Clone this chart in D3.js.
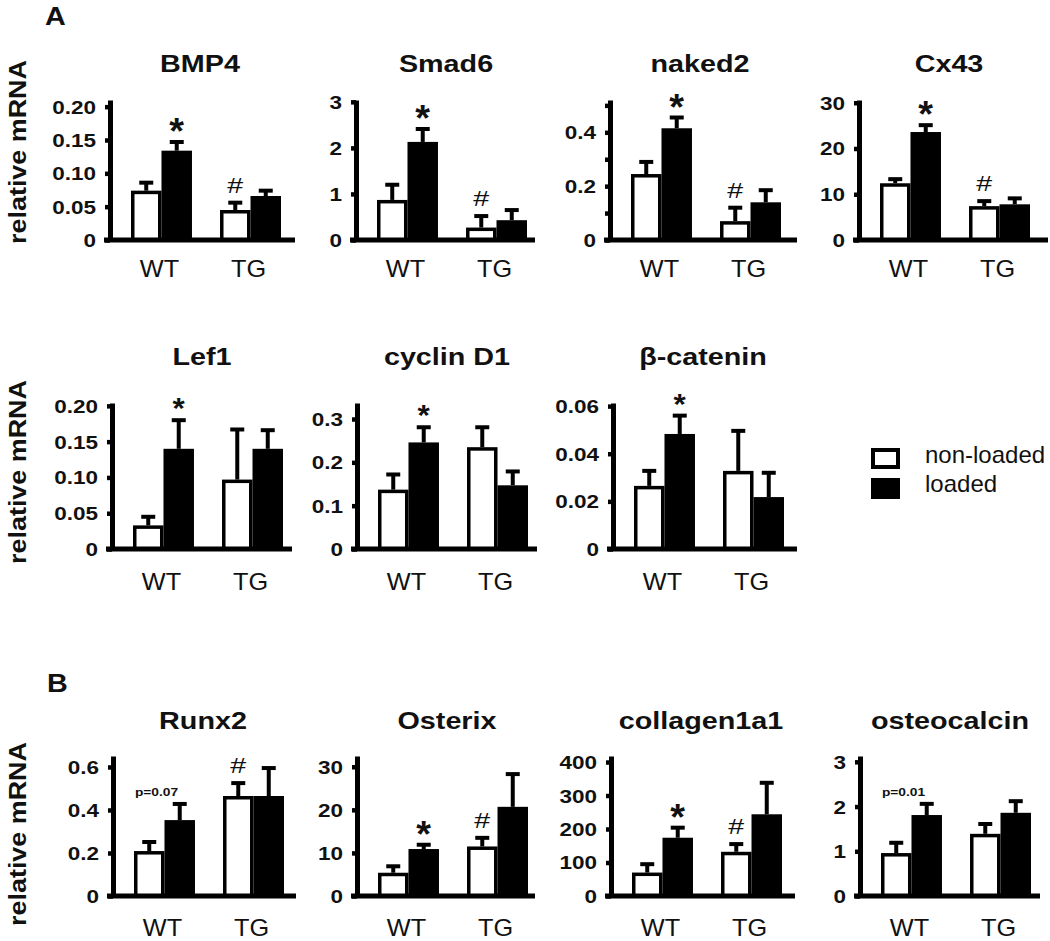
<!DOCTYPE html>
<html>
<head>
<meta charset="utf-8">
<script src="https://cdn.jsdelivr.net/npm/d3@7"></script>
<style>
  body { margin: 0; background: #fff; }
  text { font-family: "Liberation Sans", Arial, sans-serif; fill: #111; }
</style>
</head>
<body>
<div id="chart"></div>
<script>
// ---- data ----
const genes = ["BMP4", "Smad6", "naked2", "Cx43", "Lef1", "cyclin D1", "β-catenin",
               "Runx2", "Osterix", "collagen1a1", "osteocalcin"];
const groups = ["WT", "TG"];
const seriesNames = ["non-loaded", "loaded"];

// [WT, TG] per gene
const nonLoadedMean = [[0.074, 0.045], [0.87, 0.27], [0.245, 0.07], [12.4, 7.4],
  [0.033, 0.097], [0.137, 0.235], [0.0265, 0.0328],
  [0.209, 0.465], [5.4, 11.5], [70, 132], [0.96, 1.39]];
const nonLoadedErr = [[0.012, 0.011], [0.33, 0.25], [0.045, 0.05], [0.9, 1.1],
  [0.012, 0.07], [0.035, 0.046], [0.0063, 0.0168],
  [0.042, 0.06], [1.5, 2.0], [25, 23], [0.23, 0.22]];
const loadedMean = [[0.134, 0.066], [2.13, 0.43], [0.415, 0.14], [23.6, 7.8],
  [0.14, 0.14], [0.246, 0.147], [0.0483, 0.0218],
  [0.353, 0.465], [10.9, 20.7], [174, 244], [1.81, 1.86]];
const loadedErr = [[0.013, 0.008], [0.28, 0.22], [0.04, 0.045], [1.5, 1.3],
  [0.04, 0.026], [0.035, 0.032], [0.0077, 0.0102],
  [0.075, 0.13], [1.0, 7.6], [30, 94], [0.25, 0.26]];

const yMax = [0.21, 3.04, 0.52, 30.6, 0.204, 0.337, 0.0613, 0.651, 32.5, 418, 3.13];
const tickValues = [[0, 0.05, 0.1, 0.15, 0.2], [0, 1, 2, 3], [0, 0.1, 0.2, 0.3, 0.4, 0.5], [0, 10, 20, 30],
  [0, 0.05, 0.1, 0.15, 0.2], [0, 0.1, 0.2, 0.3], [0, 0.02, 0.04, 0.06],
  [0, 0.2, 0.4, 0.6], [0, 10, 20, 30], [0, 100, 200, 300, 400], [0, 1, 2, 3]];
const tickLabels = [["0", "0.05", "0.10", "0.15", "0.20"], ["0", "1", "2", "3"], ["0", "", "0.2", "", "0.4", ""], ["0", "10", "20", "30"],
  ["0", "0.05", "0.10", "0.15", "0.20"], ["0", "0.1", "0.2", "0.3"], ["0", "0.02", "0.04", "0.06"],
  ["0", "0.2", "0.4", "0.6"], ["0", "10", "20", "30"], ["0", "100", "200", "300", "400"], ["0", "1", "2", "3"]];

// significance marks: gene index, group, series, symbol
const marks = [
  [0, "WT", "loaded", "*"], [0, "TG", "non-loaded", "#"],
  [1, "WT", "loaded", "*"], [1, "TG", "non-loaded", "#"],
  [2, "WT", "loaded", "*"], [2, "TG", "non-loaded", "#"],
  [3, "WT", "loaded", "*"], [3, "TG", "non-loaded", "#"],
  [4, "WT", "loaded", "*"], [5, "WT", "loaded", "*"], [6, "WT", "loaded", "*"],
  [7, "TG", "non-loaded", "#"], [8, "WT", "loaded", "*"], [8, "TG", "non-loaded", "#"],
  [9, "WT", "loaded", "*"], [9, "TG", "non-loaded", "#"]
];
const pNotes = [[7, "p=0.07"], [10, "p=0.01"]];

// ---- layout ----
const svgWidth = 1050, svgHeight = 941;
const panelX = [110, 356, 610, 859, 112, 357, 613, 113, 357, 611, 860];
const axisLen = [185, 179, 187, 189, 180, 180, 184, 183, 178, 184, 180];
const panelRow = [0, 0, 0, 0, 1, 1, 1, 2, 2, 2, 2];
const rowTop = [100, 403, 756];
const rowZero = [240, 549, 896];
const rowTitle = [72, 365, 729];
const rowGroupLabel = [277, 590, 936];
const sx = 1.25; // the figure's bold type is drawn wide

const svg = d3.select("#chart").append("svg")
  .attr("width", svgWidth).attr("height", svgHeight);

function wideText(g, x, y, str, size, weight, stretch, anchor) {
  return g.append("text")
    .attr("transform", `translate(${x},${y}) scale(${stretch},1)`)
    .attr("text-anchor", anchor || "middle")
    .style("font-size", size + "px")
    .style("font-weight", weight)
    .text(str);
}

// panel letters
wideText(svg, 45, 25, "A", 25, "bold", 1.15, "start");
wideText(svg, 47, 692, "B", 25, "bold", 1.15, "start");

// y axis titles, one per row
[152, 472, 834].forEach(cy => {
  svg.append("text")
    .attr("transform", `translate(26,${cy}) rotate(-90) scale(1.17,1)`)
    .attr("text-anchor", "middle")
    .style("font-size", "23px").style("font-weight", "bold")
    .text("relative mRNA");
});

genes.forEach((gene, i) => {
  const r = panelRow[i];
  const x0 = panelX[i];
  const g = svg.append("g");

  const y = d3.scaleLinear().domain([0, yMax[i]]).range([rowZero[r], rowTop[r]]);
  const xGroup = d3.scaleBand().domain(groups).range([x0 + 21, x0 + 171]).paddingInner(0.315);
  const xSeries = d3.scaleBand().domain(seriesNames).range([0, xGroup.bandwidth()]);

  const rows = [];
  groups.forEach((grp, k) => {
    rows.push({grp, s: "non-loaded", mean: nonLoadedMean[i][k], err: nonLoadedErr[i][k]});
    rows.push({grp, s: "loaded", mean: loadedMean[i][k], err: loadedErr[i][k]});
  });
  const cx = d => xGroup(d.grp) + xSeries(d.s) + xSeries.bandwidth() / 2;

  // error bars (upper whisker only)
  const eb = g.selectAll(".err").data(rows).enter().append("g");
  eb.append("line")
    .attr("x1", cx).attr("x2", cx)
    .attr("y1", d => y(d.mean)).attr("y2", d => y(d.mean + d.err))
    .attr("stroke", "#000").attr("stroke-width", 4);
  eb.append("line")
    .attr("x1", d => cx(d) - 7).attr("x2", d => cx(d) + 7)
    .attr("y1", d => y(d.mean + d.err)).attr("y2", d => y(d.mean + d.err))
    .attr("stroke", "#000").attr("stroke-width", 4);

  // bars
  const sw = 3.5;
  g.selectAll(".bar").data(rows).enter().append("rect")
    .attr("x", d => xGroup(d.grp) + xSeries(d.s) + sw / 2)
    .attr("y", d => y(d.mean) + sw / 2)
    .attr("width", xSeries.bandwidth() - sw)
    .attr("height", d => Math.max(0, y(0) - y(d.mean) - sw / 2))
    .attr("fill", d => d.s === "loaded" ? "#000" : "#fff")
    .attr("stroke", "#000").attr("stroke-width", sw);

  // y axis
  const yAxis = g.append("g").attr("transform", `translate(${x0},0)`)
    .call(d3.axisLeft(y).tickValues(tickValues[i])
      .tickFormat((d, j) => tickLabels[i][j]).tickSize(5).tickSizeOuter(0));
  yAxis.select(".domain").attr("stroke", "#000").attr("stroke-width", 5);
  yAxis.selectAll(".tick line").attr("stroke", "#000").attr("stroke-width", 4.5);
  yAxis.selectAll(".tick text")
    .attr("x", -14 / sx).attr("dy", "0.36em")
    .attr("transform", `scale(${sx},1)`)
    .style("font-size", "18px").style("font-weight", "bold")
    .style("font-family", "'Liberation Sans', Arial, sans-serif").attr("fill", "#111");

  // x axis baseline
  g.append("line")
    .attr("x1", x0 - 6).attr("x2", x0 + axisLen[i])
    .attr("y1", y(0)).attr("y2", y(0))
    .attr("stroke", "#000").attr("stroke-width", 5);

  // group labels
  groups.forEach(grp => {
    wideText(g, xGroup(grp) + xGroup.bandwidth() / 2 - 2, rowGroupLabel[r], grp, 23, "normal", 1.1);
  });

  // title
  wideText(g, x0 + 90, rowTitle[r], gene, 23, "bold", sx);

  // significance marks
  marks.filter(m => m[0] === i).forEach(m => {
    const d = rows.find(rw => rw.grp === m[1] && rw.s === m[2]);
    const top = y(d.mean + d.err);
    if (m[3] === "*") {
      wideText(g, cx(d), top + (r === 1 ? -2 : 2), "*", r === 1 ? 30 : 36, "bold", 1.05);
    } else {
      wideText(g, cx(d), top - 10, "#", 22, "normal", 1.3);
    }
  });
  pNotes.filter(p => p[0] === i).forEach(p => {
    const d = rows.find(rw => rw.grp === "WT" && rw.s === "loaded");
    wideText(g, xGroup("WT") + xGroup.bandwidth() / 2 - 8, y(d.mean + d.err) - 8, p[1], 11, "bold", sx);
  });
});

// legend
const legend = svg.append("g").attr("transform", "translate(871,448)");
seriesNames.forEach((s, k) => {
  legend.append("rect")
    .attr("x", 2).attr("y", k * 30 + 2)
    .attr("width", 25).attr("height", 17)
    .attr("fill", s === "loaded" ? "#000" : "#fff")
    .attr("stroke", "#000").attr("stroke-width", 4);
  legend.append("text")
    .attr("x", 54).attr("y", 15 + k * 29)
    .style("font-size", "24px")
    .text(s);
});
</script>
</body>
</html>
